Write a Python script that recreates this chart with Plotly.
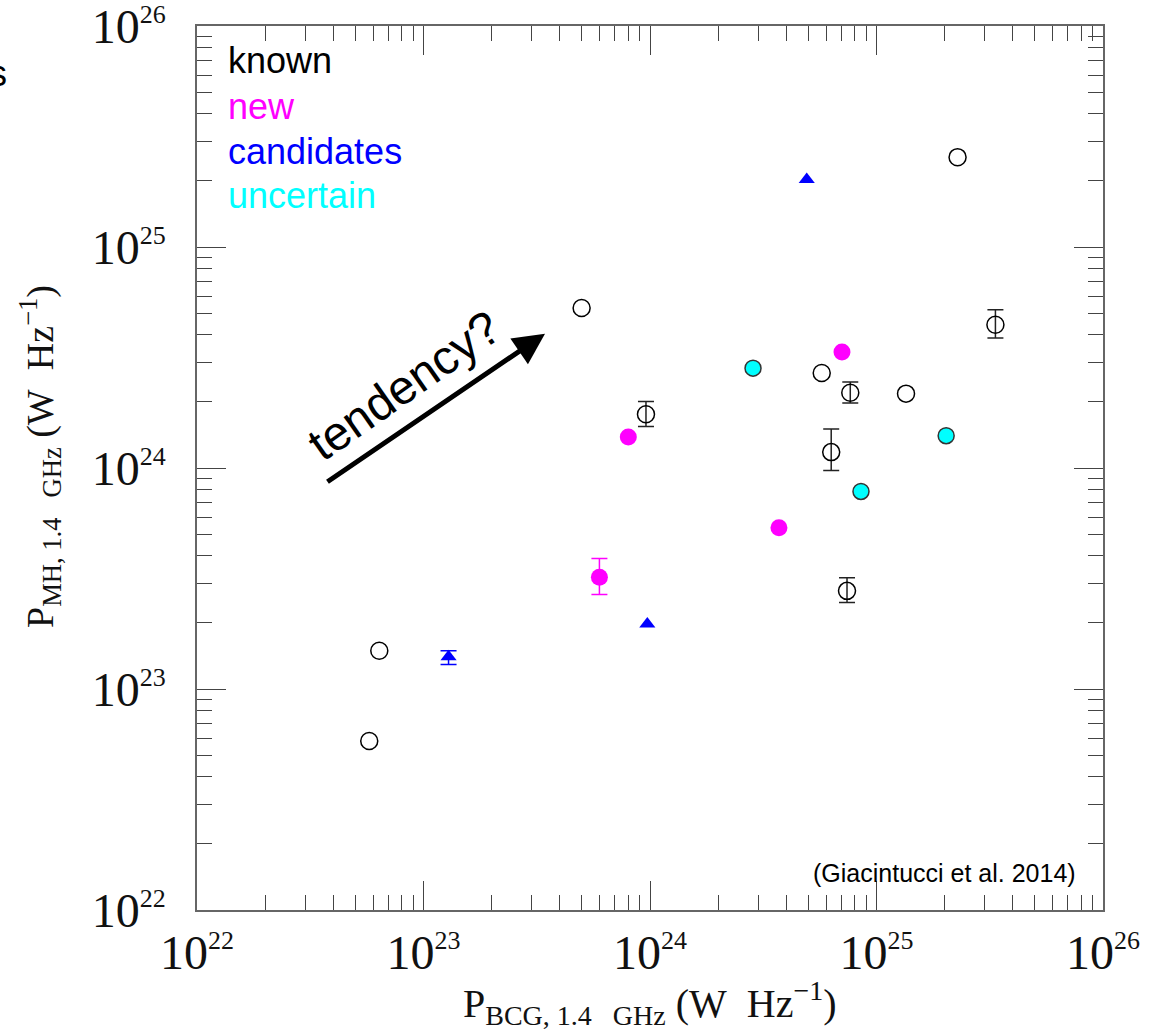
import plotly.graph_objects as go

# ---- data: P_BCG (x) vs P_MH (y) at 1.4 GHz, W/Hz ----
known_x = [4.99e23, 2.28e25, 3.35e25, 5.73e24, 7.66e24, 1.35e25, 9.60e23, 6.31e24, 7.41e24, 6.38e22, 5.76e22]
known_y = [5.30e24, 2.55e25, 4.45e24, 2.69e24, 2.19e24, 2.17e24, 1.75e24, 1.18e24, 2.78e23, 1.49e23, 5.82e22]
known_y_hi = [None, None, 5.20e24, None, 2.45e24, None, 2.00e24, 1.50e24, 3.19e23, None, None]
known_y_lo = [None, None, 3.87e24, None, 1.97e24, None, 1.54e24, 9.75e23, 2.46e23, None, None]

new_x = [7.04e24, 8.02e23, 3.71e24, 5.98e23]
new_y = [3.35e24, 1.38e24, 5.36e23, 3.20e23]
new_y_hi = [None, None, None, 3.89e23]
new_y_lo = [None, None, None, 2.68e23]

cand_x = [4.92e24, 9.73e23, 1.29e23]
cand_y = [2.02e25, 1.97e23, 1.40e23]
cand_y_hi = [None, None, 1.49e23]
cand_y_lo = [None, None, 1.29e23]

unc_x = [2.85e24, 8.54e24, 2.03e25]
unc_y = [2.83e24, 7.83e23, 1.40e24]

decades = [1e22, 1e23, 1e24, 1e25, 1e26]
decade_labels = ["22", "23", "24", "25", "26"]

# ---- figure geometry (pixels) ----
W, H = 1150, 1031
L, R, T, B = 197, 47, 26, 121
PW, PH = W - L - R, H - T - B


def px(xp):
    return (xp - L) / PW


def py(yp):
    return (H - B - yp) / PH


fig = go.Figure()


def add_series(x, y, hi, lo, marker, err_color):
    plain = [i for i in range(len(x)) if hi[i] is None]
    witherr = [i for i in range(len(x)) if hi[i] is not None]
    if plain:
        fig.add_trace(go.Scatter(
            x=[x[i] for i in plain], y=[y[i] for i in plain],
            mode="markers", marker=marker, showlegend=False, hoverinfo="x+y"))
    if witherr:
        fig.add_trace(go.Scatter(
            x=[x[i] for i in witherr], y=[y[i] for i in witherr],
            mode="markers", marker=marker, showlegend=False, hoverinfo="x+y",
            error_y=dict(type="data", symmetric=False,
                         array=[hi[i] - y[i] for i in witherr],
                         arrayminus=[y[i] - lo[i] for i in witherr],
                         color=err_color, thickness=1.5, width=8)))


open_circle = dict(symbol="circle-open", size=17, color="black", line=dict(width=1.5, color="black"))
add_series(known_x, known_y, known_y_hi, known_y_lo, open_circle, "#222")

magenta_dot = dict(symbol="circle", size=17, color="#ff00ff", line=dict(width=0))
add_series(new_x, new_y, new_y_hi, new_y_lo, magenta_dot, "#ff00ff")

blue_tri = dict(symbol="triangle-up", size=14, color="#0000ff", line=dict(width=0))
add_series(cand_x, cand_y, cand_y_hi, cand_y_lo, blue_tri, "#0000ff")

cyan_dot = dict(symbol="circle", size=16, color="#00ffff", line=dict(width=1.5, color="#333"))
add_series(unc_x, unc_y, [None] * len(unc_x), [None] * len(unc_x), cyan_dot, "#00ffff")

minor_vals = [m * d for d in decades[:-1] for m in range(2, 10)]
tick_text = ['10<sup><span style="font-size:26px">%s</span></sup>' % s for s in decade_labels]
serif = "Liberation Serif"

axis_common = dict(
    type="log", showgrid=False, zeroline=False, automargin=False,
    showline=True, linecolor="#666", linewidth=1.5, mirror="allticks",
    ticks="inside", ticklen=29, tickwidth=1.3, tickcolor="#444",
    tickvals=decades, ticktext=tick_text, ticklabeloverflow="allow",
    tickfont=dict(family=serif, size=48, color="#111"),
    minor=dict(tickvals=minor_vals, ticks="inside", ticklen=15, tickwidth=1.3,
               tickcolor="#444", showgrid=False),
)

fig.update_xaxes(range=[22, 26], ticklabelstandoff=0, **axis_common)
fig.update_yaxes(range=[22, 26], ticklabelstandoff=20, **axis_common)

sans = "Liberation Sans"
ann = []
# category key
for label, color, yp in [("known", "black", 61), ("new", "#ff00ff", 106),
                         ("candidates", "#0000ff", 151), ("uncertain", "#00ffff", 195)]:
    ann.append(dict(text=label, xref="paper", yref="paper", x=px(226), y=py(yp),
                    xanchor="left", yanchor="middle", showarrow=False,
                    font=dict(family=sans, size=36, color=color)))

# trend arrow and its label
ann.append(dict(text="", xref="x", yref="y", axref="x", ayref="y",
                x=23.5364, y=24.6075, ax=22.5695, ay=23.933,
                showarrow=True, arrowhead=2, arrowsize=1.25, arrowwidth=5, arrowcolor="black"))
ann.append(dict(text="tendency?", xref="paper", yref="paper", x=px(404), y=py(385),
                xanchor="center", yanchor="middle", textangle=-35, showarrow=False,
                font=dict(family=sans, size=48, color="black")))

# reference note
ann.append(dict(text="(Giacintucci et al. 2014)", xref="paper", yref="paper",
                x=px(1078), y=py(873), xanchor="right", yanchor="middle", showarrow=False,
                font=dict(family=sans, size=25, color="black")))

# stray character at the left margin
ann.append(dict(text="s", xref="paper", yref="paper", x=px(9), y=py(73),
                xanchor="right", yanchor="middle", showarrow=False,
                font=dict(family=sans, size=36, color="black")))

# axis titles
ann.append(dict(text="P<sub>BCG, 1.4\u00a0\u00a0\u00a0GHz</sub>\u00a0(W\u00a0\u00a0Hz<sup>\u22121</sup>)",
                xref="paper", yref="paper", x=px(650), y=py(1003),
                xanchor="center", yanchor="middle", showarrow=False,
                font=dict(family=serif, size=40, color="#111")))
ann.append(dict(text="P<sub>MH, 1.4\u00a0\u00a0\u00a0GHz</sub>\u00a0(W\u00a0\u00a0Hz<sup>\u22121</sup>)",
                xref="paper", yref="paper", x=px(40), y=py(457),
                xanchor="center", yanchor="middle", textangle=-90, showarrow=False,
                font=dict(family=serif, size=38, color="#111")))

fig.update_layout(
    width=W, height=H,
    margin=dict(l=L, r=R, t=T, b=B, pad=0, autoexpand=False),
    paper_bgcolor="white", plot_bgcolor="white",
    showlegend=False, annotations=ann,
)

fig.write_html("out.html")
